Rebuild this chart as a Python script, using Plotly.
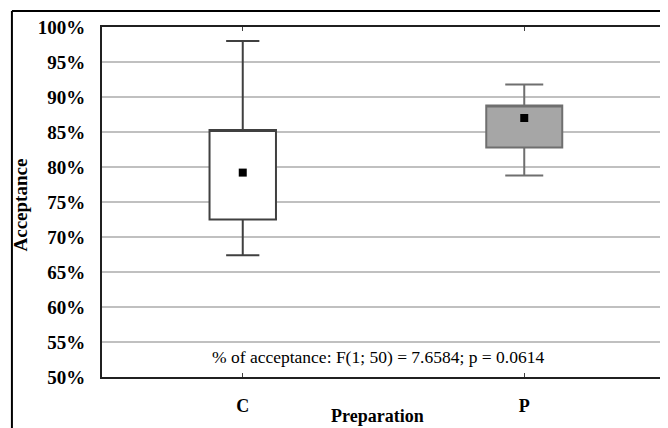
import plotly.graph_objects as go

categories = ["C", "P"]
q1 = [0.725, 0.828]
q3 = [0.853, 0.888]
lower = [0.674, 0.788]
upper = [0.980, 0.918]
means = [0.792, 0.870]
fills = ["#ffffff", "#a6a6a6"]
edges = ["#404040", "#6f6f6f"]
widths = [0.236, 0.27]

serif = "Liberation Serif"
fig = go.Figure()
for i, c in enumerate(categories):
    fig.add_trace(go.Box(
        x=[c], q1=[q1[i]], median=[q3[i]], q3=[q3[i]],
        lowerfence=[lower[i]], upperfence=[upper[i]],
        fillcolor=fills[i], line=dict(color=edges[i], width=2),
        width=widths[i], whiskerwidth=0.5, boxpoints=False,
        showlegend=False, hoverinfo="skip"))
fig.add_trace(go.Scatter(
    x=categories, y=means, mode="markers",
    marker=dict(symbol="square", size=8, color="#000000"),
    showlegend=False, hoverinfo="skip"))

# page body has an 8px margin, so the figure is 8px smaller and shifted
fig.update_layout(
    width=660, height=420,
    margin=dict(l=94, r=3, t=19, b=51),
    paper_bgcolor="white", plot_bgcolor="white",
    font=dict(family=serif, color="#000000"),
    xaxis=dict(
        type="category", categoryorder="array", categoryarray=categories,
        range=[-0.5, 1.5], showgrid=False, automargin=False,
        showline=True, linecolor="#202020", linewidth=2, mirror="ticks",
        ticks="inside", ticklen=4, tickcolor="#404040",
        tickfont=dict(family=serif, size=18, color="#000000", weight="bold"),
        ticklabelstandoff=11,
    ),
    yaxis=dict(
        range=[0.5, 1.0], dtick=0.05, tickformat=".0%", automargin=False,
        showgrid=True, gridcolor="#c0c0c0", gridwidth=2,
        showline=True, linecolor="#202020", linewidth=2, mirror=True,
        ticks="", zeroline=False,
        tickfont=dict(family=serif, size=19, color="#000000", weight="bold"),
        ticklabelstandoff=11,
    ),
)

fig.add_annotation(
    text="<b>Preparation</b>", xref="paper", yref="paper",
    x=0.49, y=-0.111, xanchor="center", yanchor="middle", showarrow=False,
    font=dict(family=serif, size=18, color="#000000"))
fig.add_annotation(
    text="<b>Acceptance</b>", xref="paper", yref="paper", textangle=-90,
    x=-0.1456, y=0.49, xanchor="center", yanchor="middle", showarrow=False,
    font=dict(family=serif, size=19, color="#000000"))

fig.add_annotation(
    text="% of acceptance: F(1; 50) = 7.6584; p = 0.0614",
    xref="paper", yref="paper", x=0.49, y=0.057,
    xanchor="center", yanchor="middle", showarrow=False,
    font=dict(family=serif, size=17.5, color="#000000"))

# outer frame (left and top edges)
fig.add_shape(type="line", xref="paper", yref="paper",
              x0=-0.16, x1=1.01, y0=1.0457, y1=1.0457,
              line=dict(color="#000000", width=2))
fig.add_shape(type="line", xref="paper", yref="paper",
              x0=-0.16, x1=-0.16, y0=1.0457, y1=-0.2,
              line=dict(color="#000000", width=2))

fig.write_html("out.html")
